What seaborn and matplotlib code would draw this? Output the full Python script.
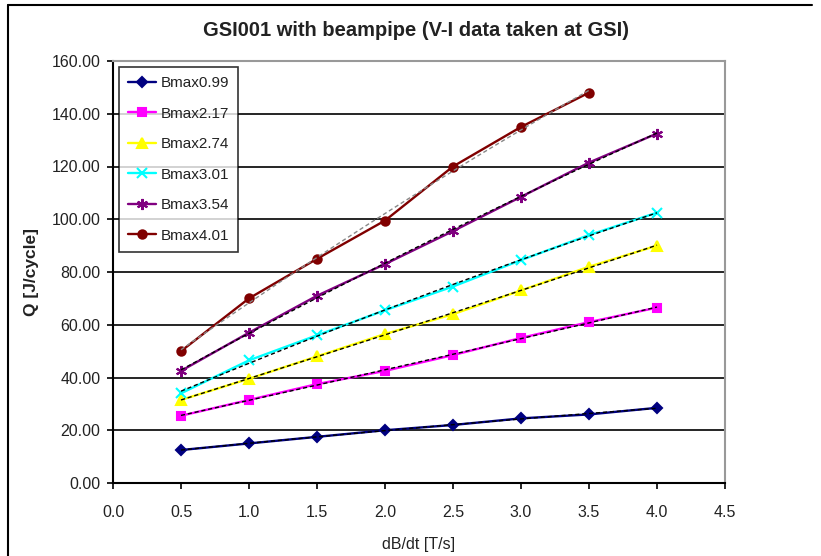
import numpy as np
import pandas as pd
import matplotlib
matplotlib.use("Agg")
import matplotlib.pyplot as plt
import seaborn as sns
from matplotlib.lines import Line2D

x_vals = [0.5, 1.0, 1.5, 2.0, 2.5, 3.0, 3.5, 4.0]
b099 = [12.5, 15.0, 17.5, 20.0, 22.0, 24.5, 26.0, 28.5]
b217 = [25.5, 31.5, 37.5, 42.5, 48.5, 55.0, 61.0, 66.5]
b274 = [31.5, 39.5, 48.0, 56.5, 64.0, 73.0, 82.0, 90.0]
b301 = [34.0, 46.5, 56.0, 65.5, 74.5, 84.5, 94.0, 102.5]
b354 = [42.5, 57.0, 71.0, 83.0, 95.5, 108.5, 121.5, 132.5]
b401 = [50.0, 70.0, 85.0, 99.5, 120.0, 135.0, 148.0]

names = ["Bmax0.99", "Bmax2.17", "Bmax2.74", "Bmax3.01", "Bmax3.54", "Bmax4.01"]
series = [b099, b217, b274, b301, b354, b401]
colors = ["#000080", "#FF00FF", "#FFFF00", "#00FFFF", "#800080", "#800000"]
markers = ["D", "s", "^", "x", (6, 2, 0), "o"]
msizes = [5.5, 5.5, 6.5, 7, 8, 6]
trend_colors = ["black", "black", "black", "black", "black", "#888888"]

rows = []
for n, s in zip(names, series):
    for xv, yv in zip(x_vals, s):
        rows.append({"dBdt": xv, "Q": yv, "series": n})
df = pd.DataFrame(rows)

sns.set_theme(style="white")
plt.rcParams["font.family"] = ["Liberation Sans", "DejaVu Sans"]

fig = plt.figure(figsize=(8.21, 5.56), dpi=100)
ax = fig.add_axes([113/821, 1-483/556, (725-113)/821, (483-61)/556])

for n, c, m, ms, tc in zip(names, colors, markers, msizes, trend_colors):
    sub = df[df["series"] == n]
    sns.lineplot(data=sub, x="dBdt", y="Q", color=c, marker=m, markersize=ms,
                 markeredgecolor=c, markeredgewidth=1.5, linewidth=1.7, ax=ax,
                 legend=False, zorder=3)
    # trend line (quadratic fit of the series)
    xs = sub["dBdt"].to_numpy()
    ys = sub["Q"].to_numpy()
    coef = np.polyfit(xs, ys, 2)
    xf = np.linspace(xs.min(), xs.max(), 50)
    ax.plot(xf, np.polyval(coef, xf), color=tc, linestyle=(0, (3, 2)),
            linewidth=1.0, zorder=4)

ax.set_xlim(0, 4.5)
ax.set_ylim(0, 160)
ax.set_xticks(np.arange(0, 4.51, 0.5))
ax.set_yticks(np.arange(0, 160.1, 20))
ax.xaxis.set_major_formatter(matplotlib.ticker.FormatStrFormatter("%.1f"))
ax.yaxis.set_major_formatter(matplotlib.ticker.FormatStrFormatter("%.2f"))
ax.yaxis.grid(True, color="black", linewidth=1.2)
ax.set_axisbelow(True)
ax.tick_params(axis="both", direction="out", length=4, width=1.2, color="black",
               labelsize=11.5, labelcolor="#222222", bottom=True, left=True)
ax.tick_params(axis="x", pad=12)
ax.tick_params(axis="y", pad=5)
for sp in ["left", "bottom"]:
    ax.spines[sp].set_color("black")
    ax.spines[sp].set_linewidth(1.5)
for sp in ["top", "right"]:
    ax.spines[sp].set_color("#999999")
    ax.spines[sp].set_linewidth(1.5)

ax.set_xlabel("dB/dt [T/s]", fontsize=11.5, labelpad=12, color="#222222")
ax.set_ylabel("Q [J/cycle]", fontsize=12.5, fontweight="bold", labelpad=9,
              color="#222222")
fig.text(416 / 821, 1 - 30/556,
         "GSI001 with beampipe (V-I data taken at GSI)",
         ha="center", va="center", fontsize=14.5, fontweight="bold",
         color="#222222")

handles = [Line2D([0], [0], color=c, marker=m, markersize=ms, linewidth=1.7,
                  markeredgecolor=c, markeredgewidth=1.5)
           for c, m, ms in zip(colors, markers, msizes)]
leg = ax.legend(handles, names, loc="upper left",
                bbox_to_anchor=(6/612, (483-67)/422), borderaxespad=0,
                frameon=True, fancybox=False, edgecolor="black", fontsize=11,
                handlelength=1.8, labelspacing=1.08, borderpad=0.6,
                handletextpad=0.3)
leg.get_frame().set_linewidth(1.2)
leg.set_zorder(10)
for t in leg.get_texts():
    t.set_color("#222222")

# outer chart border (left and top)
fig.add_artist(Line2D([8/821, 8/821], [0, 1 - 5/556], color="black",
                      linewidth=1.5, transform=fig.transFigure))
fig.add_artist(Line2D([8/821, 812/821], [1 - 5/556, 1 - 5/556], color="black",
                      linewidth=1.5, transform=fig.transFigure))

fig.savefig("out.png", dpi=100)
